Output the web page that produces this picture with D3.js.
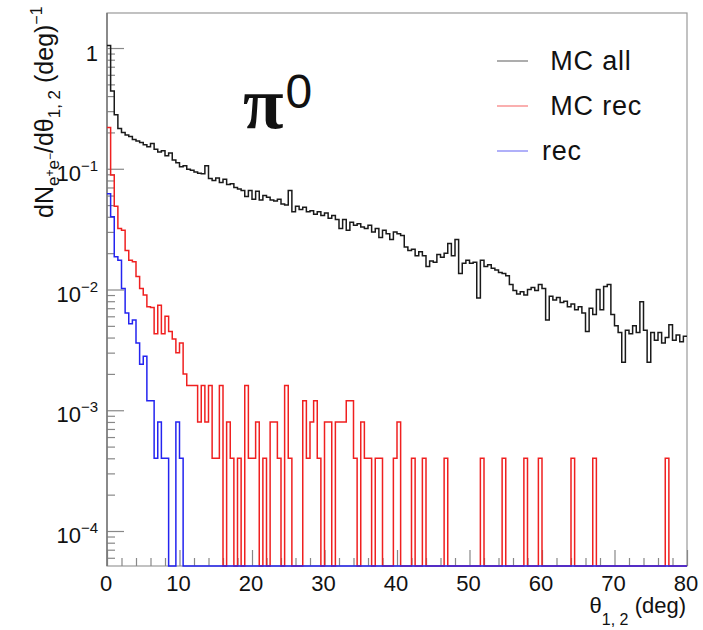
<!DOCTYPE html>
<meta charset="utf-8">

<style>
body { margin: 0; background: #fff; }
text { font-family: "Liberation Sans", Arial, sans-serif; fill: #111; }
.axis path { display: none; }
.axis line { stroke: #888; stroke-width: 1.2; }
.axis text { display: none; }
</style>

<svg class="chart" width="703" height="630"></svg>

<script src="https://d3js.org/d3.v7.min.js"></script>
<script>

  // histogram contents, one value per 0.5 deg bin from 0 to 80 deg
  var mcAll = [
    1.05, 0.44, 0.28, 0.215, 0.20, 0.19, 0.185, 0.175, 0.17, 0.165,
    0.158, 0.152, 0.162, 0.145, 0.138, 0.141, 0.128, 0.135, 0.118, 0.112,
    0.104, 0.106, 0.099, 0.097, 0.094, 0.092, 0.091, 0.106, 0.083, 0.080,
    0.084, 0.077, 0.082, 0.074, 0.075, 0.070, 0.068, 0.066, 0.059, 0.066,
    0.056, 0.065, 0.055, 0.060, 0.058, 0.055, 0.054, 0.056, 0.051, 0.050,
    0.066, 0.044, 0.049, 0.046, 0.048, 0.044, 0.045, 0.042, 0.044, 0.041,
    0.043, 0.039, 0.041, 0.038, 0.032, 0.038, 0.031, 0.036, 0.034, 0.035,
    0.033, 0.032, 0.034, 0.030, 0.032, 0.027, 0.031, 0.029, 0.026, 0.030,
    0.029, 0.028, 0.0225, 0.021, 0.0215, 0.019, 0.0205, 0.019, 0.0155, 0.0172,
    0.0168, 0.0195, 0.0185, 0.020, 0.024, 0.019, 0.026, 0.0136, 0.0165, 0.0175,
    0.0165, 0.0168, 0.0085, 0.0175, 0.0155, 0.016, 0.015, 0.0145, 0.0138, 0.0136,
    0.013, 0.011, 0.0098, 0.0092, 0.0096, 0.009, 0.010, 0.0104, 0.0098, 0.011,
    0.0102, 0.0056, 0.0088, 0.0082, 0.0086, 0.0078, 0.008, 0.0072, 0.0076, 0.0068,
    0.0072, 0.0064, 0.0045, 0.007, 0.0062, 0.010, 0.0068, 0.0106, 0.011, 0.0062,
    0.005, 0.0044, 0.0025, 0.0046, 0.0043, 0.005, 0.0044, 0.0079, 0.0046, 0.0025,
    0.0044, 0.0038, 0.0044, 0.0036, 0.004, 0.0051, 0.0038, 0.0042, 0.0037, 0.0041
  ];

  var mcRec = [
    0.22, 0.089, 0.049, 0.032, 0.031, 0.021, 0.0175, 0.017, 0.0128, 0.0102,
    0.009, 0.0072, 0.0071, 0.0043, 0.0074, 0.0043, 0.006, 0.0045, 0.0039, 0.003,
    0.0036, 0.002, 0.0016, 0.0016, 0.0016, 0.0008, 0.0016, 0.0008, 0.0016, 0.0004,
    0.0004, 0.0016, 0, 0.0008, 0.0004, 0, 0.0004, 0, 0.0016, 0.0004,
    0.0004, 0.0008, 0, 0.0004, 0, 0.0008, 0.0008, 0.0004, 0, 0.0016,
    0.0004, 0, 0, 0, 0.0012, 0.0004, 0.0008, 0.0012, 0.0004, 0,
    0.0008, 0.0008, 0, 0.0008, 0.0008, 0.0008, 0.0012, 0.0012, 0.0004, 0,
    0.0008, 0.0004, 0.0004, 0, 0.0004, 0.0004, 0, 0, 0, 0.0004,
    0.0008, 0, 0, 0, 0.0004, 0, 0, 0.0004, 0, 0,
    0, 0, 0, 0.0004, 0, 0, 0, 0, 0, 0,
    0, 0, 0, 0.0004, 0, 0, 0, 0, 0, 0.0004,
    0, 0, 0, 0, 0, 0.0004, 0, 0, 0, 0.0004,
    0, 0, 0, 0, 0, 0, 0, 0, 0.0004, 0,
    0, 0, 0, 0, 0.0004, 0, 0, 0, 0, 0,
    0, 0, 0, 0, 0, 0, 0, 0, 0, 0,
    0, 0, 0, 0, 0.0004, 0, 0, 0, 0, 0
  ];

  var rec = [
    0.062, 0.040, 0.0187, 0.0175, 0.0102, 0.0064, 0.0052, 0.0056, 0.0036, 0.0024,
    0.0028, 0.0012, 0.0012, 0.0004, 0.0008, 0.0004, 0.0004, 0, 0, 0.0008,
    0.0004, 0, 0, 0, 0, 0, 0, 0, 0, 0,
    0, 0, 0, 0, 0, 0, 0, 0, 0, 0,
    0, 0, 0, 0, 0, 0, 0, 0, 0, 0,
    0, 0, 0, 0, 0, 0, 0, 0, 0, 0,
    0, 0, 0, 0, 0, 0, 0, 0, 0, 0,
    0, 0, 0, 0, 0, 0, 0, 0, 0, 0,
    0, 0, 0, 0, 0, 0, 0, 0, 0, 0,
    0, 0, 0, 0, 0, 0, 0, 0, 0, 0,
    0, 0, 0, 0, 0, 0, 0, 0, 0, 0,
    0, 0, 0, 0, 0, 0, 0, 0, 0, 0,
    0, 0, 0, 0, 0, 0, 0, 0, 0, 0,
    0, 0, 0, 0, 0, 0, 0, 0, 0, 0,
    0, 0, 0, 0, 0, 0, 0, 0, 0, 0,
    0, 0, 0, 0, 0, 0, 0, 0, 0, 0
  ];

  var xMajorTicks = [0, 10, 20, 30, 40, 50, 60, 70, 80];
  var yMajorTicks = [1e-4, 1e-3, 1e-2, 1e-1, 1];
  var yTickExponents = ["-4", "-3", "-2", "-1", ""];
  var legendLabels = [" MC all", " MC rec", "rec"];

  var binWidth = 0.5;

  var frame = { left: 107, right: 687, top: 13, bottom: 566 };

  var x = d3.scaleLinear()
      .domain([0, 80])
      .range([frame.left, frame.right]);

  var y = d3.scaleLog()
      .domain([5.13e-5, 1.95])
      .range([frame.bottom, frame.top]);

  var colors = { mcAll: "#1a1a1a", mcRec: "#f02020", rec: "#2424f0" };

  var svg = d3.select(".chart");

  svg.append("defs").append("clipPath")
      .attr("id", "plot-clip")
    .append("rect")
      .attr("x", frame.left)
      .attr("y", frame.top - 1)
      .attr("width", frame.right - frame.left + 1)
      .attr("height", frame.bottom - frame.top + 2);

  // frame
  svg.append("rect")
      .attr("x", frame.left)
      .attr("y", frame.top)
      .attr("width", frame.right - frame.left)
      .attr("height", frame.bottom - frame.top)
      .attr("fill", "none")
      .attr("stroke", "#999")
      .attr("stroke-width", 1.2);

  // minor ticks
  var yMinorTicks = [];
  [-5, -4, -3, -2, -1, 0].forEach(function(e) {
    for (var m = 2; m <= 9; m++) {
      var v = m * Math.pow(10, e);
      if (v > y.domain()[0] && v < y.domain()[1]) yMinorTicks.push(v);
    }
  });

  var xMinorTicks = d3.range(0, 81, 2).filter(function(v) { return v % 10 !== 0; });

  svg.append("g")
      .attr("class", "y axis")
      .attr("transform", "translate(" + frame.left + ",0)")
      .call(d3.axisRight(y).tickValues(yMinorTicks).tickSize(8).tickFormat(""));

  svg.append("g")
      .attr("class", "y axis")
      .attr("transform", "translate(" + frame.left + ",0)")
      .call(d3.axisRight(y).tickValues(yMajorTicks).tickSize(17).tickFormat(""));

  svg.append("g")
      .attr("class", "x axis")
      .attr("transform", "translate(0," + frame.bottom + ")")
      .call(d3.axisTop(x).tickValues(xMinorTicks).tickSize(8).tickFormat(""));

  svg.append("g")
      .attr("class", "x axis")
      .attr("transform", "translate(0," + frame.bottom + ")")
      .call(d3.axisTop(x).tickValues(xMajorTicks).tickSize(16).tickFormat(""));

  // left axis line
  svg.append("line")
      .attr("x1", frame.left).attr("x2", frame.left)
      .attr("y1", frame.top).attr("y2", frame.bottom)
      .attr("stroke", "#777")
      .attr("stroke-width", 1.5);

  // histograms
  function stepPath(values) {
    var yv = function(v) { return v > 0 ? y(v) : frame.bottom; };
    var p = d3.path();
    p.moveTo(x(0), yv(values[0]));
    values.forEach(function(v, i) {
      if (i > 0) p.lineTo(x(i * binWidth), yv(v));
      p.lineTo(x((i + 1) * binWidth), yv(v));
    });
    return p.toString();
  }

  var series = [
    { id: "mcAll", values: mcAll },
    { id: "mcRec", values: mcRec },
    { id: "rec",   values: rec }
  ];

  svg.append("g")
      .attr("clip-path", "url(#plot-clip)")
    .selectAll("path")
      .data(series)
    .enter().append("path")
      .attr("d", function(d) { return stepPath(d.values); })
      .attr("fill", "none")
      .attr("stroke", function(d) { return colors[d.id]; })
      .attr("stroke-width", 1.5)
      .attr("stroke-linejoin", "miter");

  // y tick labels
  var yLabels = svg.append("g")
    .selectAll("text")
      .data(yMajorTicks)
    .enter().append("text")
      .attr("x", 98)
      .attr("y", function(d) { return y(d) + (d === 1 ? 13 : 12); })
      .attr("text-anchor", "end")
      .style("font-size", "22px");

  yLabels.each(function(d, i) {
    var t = d3.select(this);
    if (d === 1) {
      t.text("1");
    } else {
      t.append("tspan").text("10");
      t.append("tspan")
          .attr("dy", -10)
          .style("font-size", "15px")
          .text(yTickExponents[i].replace("-", "\u2212"));
    }
  });

  // x tick labels
  svg.append("g")
    .selectAll("text")
      .data(xMajorTicks)
    .enter().append("text")
      .attr("x", function(d) { return x(d) - 1; })
      .attr("y", 591)
      .attr("text-anchor", "middle")
      .style("font-size", "22px")
      .text(function(d) { return d; });

  // text with sub/superscripts
  function addRuns(sel, runs) {
    var prev = 0;
    runs.forEach(function(r) {
      sel.append("tspan")
          .attr("dy", r.off - prev)
          .style("font-size", r.size + "px")
          .text(r.t);
      prev = r.off;
    });
  }

  var xTitle = svg.append("text")
      .attr("x", 686)
      .attr("y", 613)
      .attr("text-anchor", "end");

  addRuns(xTitle, [
    { t: "\u03b8", size: 22, off: 0 },
    { t: "1, 2", size: 16, off: 12 },
    { t: " (deg)", size: 22, off: 0 }
  ]);

  var yTitle = svg.append("text")
      .attr("transform", "translate(53,218) rotate(-90)");

  addRuns(yTitle, [
    { t: "dN", size: 25, off: 0 },
    { t: "e", size: 17, off: 6 },
    { t: "+", size: 12, off: 1 },
    { t: "e", size: 17, off: 6 },
    { t: "\u2212", size: 12, off: 1 },
    { t: "/d\u03b8", size: 25, off: 0 },
    { t: "1, 2", size: 17, off: 7 },
    { t: " (deg)", size: 25, off: 0 },
    { t: "\u22121", size: 16, off: -11 }
  ]);

  // pi0 label
  var piLabel = svg.append("text")
      .attr("x", 243)
      .attr("y", 128);

  piLabel.append("tspan")
      .style("font-family", "'Liberation Serif', 'Times New Roman', serif")
      .style("font-weight", "bold")
      .style("font-size", "74px")
      .text("\u03c0");

  piLabel.append("tspan")
      .attr("dy", -20)
      .attr("dx", 2)
      .style("font-size", "48px")
      .text("0");

  // legend
  var legend = svg.append("g")
    .selectAll("g")
      .data(series)
    .enter().append("g")
      .attr("transform", function(d, i) { return "translate(0," + [70, 115, 160][i] + ")"; });

  legend.append("line")
      .attr("x1", 497)
      .attr("x2", 528)
      .attr("y1", -9)
      .attr("y2", -9)
      .attr("stroke", function(d) { return colors[d.id]; })
      .attr("stroke-opacity", 0.6)
      .attr("stroke-width", 1.2);

  legend.append("text")
      .attr("x", 542)
      .attr("y", 0)
      .style("font-size", "27px")
      .style("letter-spacing", "0.8px")
      .style("white-space", "pre")
      .attr("xml:space", "preserve")
      .text(function(d, i) { return legendLabels[i]; });

</script>
